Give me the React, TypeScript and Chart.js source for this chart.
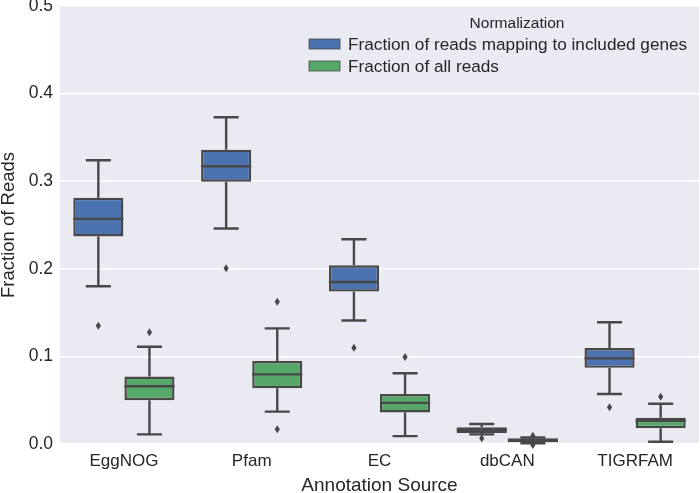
import React, { useEffect, useRef } from 'react';
import { Chart, registerables } from 'chart.js';
Chart.register(...registerables);

const categories = ['EggNOG', 'Pfam', 'EC', 'dbCAN', 'TIGRFAM'];
const seriesLabels = ['Fraction of reads mapping to included genes', 'Fraction of all reads'];
const legendTitle = 'Normalization';
const yTicks = [0.0, 0.1, 0.2, 0.3, 0.4, 0.5];

const includedLow = [0.180, 0.246, 0.141, 0.011, 0.057];
const includedQ1 = [0.237, 0.2995, 0.174, 0.0125, 0.087];
const includedMedian = [0.257, 0.317, 0.185, 0.016, 0.0978];
const includedQ3 = [0.281, 0.336, 0.204, 0.019, 0.1096];
const includedHigh = [0.324, 0.373, 0.2337, 0.0228, 0.139];
const includedOutliers = [[0.135], [0.2006], [0.110], [0.0065], [0.042]];

const allLow = [0.011, 0.037, 0.009, 0.0008, 0.0026];
const allQ1 = [0.050, 0.0635, 0.036, 0.002, 0.018];
const allMedian = [0.066, 0.0795, 0.047, 0.004, 0.0266];
const allQ3 = [0.077, 0.0947, 0.057, 0.0065, 0.030];
const allHigh = [0.111, 0.132, 0.0807, 0.0075, 0.046];
const allOutliers = [[0.1275], [0.1625, 0.0168], [0.0993], [0.0095, -0.001], [0.054]];

const BLUE = '#4C72B0';
const GREEN = '#55A868';
const LINE = '#484848';
const BG = '#EAEAF2';
const TEXT = '#262626';
const FONT = "'Liberation Sans', Arial, Helvetica, sans-serif";

const stats = [
  { low: includedLow, q1: includedQ1, med: includedMedian, q3: includedQ3, high: includedHigh, out: includedOutliers },
  { low: allLow, q1: allQ1, med: allMedian, q3: allQ3, high: allHigh, out: allOutliers },
];

const boxPlugin = {
  id: 'boxExtras',
  beforeDraw(chart: any) {
    const { ctx, chartArea } = chart;
    ctx.save();
    ctx.fillStyle = BG;
    ctx.fillRect(chartArea.left, chartArea.top, chartArea.right - chartArea.left, chartArea.bottom - chartArea.top);
    ctx.restore();
  },
  beforeDatasetsDraw(chart: any) {
    const { ctx } = chart;
    const y = chart.scales.y;
    ctx.save();
    ctx.strokeStyle = LINE;
    ctx.lineWidth = 2.4;
    stats.forEach((s, di) => {
      const meta = chart.getDatasetMeta(di);
      meta.data.forEach((bar: any, i: number) => {
        const cx = bar.x;
        const half = bar.width / 4;
        const yl = y.getPixelForValue(s.low[i]);
        const yh = y.getPixelForValue(s.high[i]);
        const y1 = y.getPixelForValue(s.q1[i]);
        const y3 = y.getPixelForValue(s.q3[i]);
        ctx.beginPath();
        ctx.moveTo(cx, y3); ctx.lineTo(cx, yh);
        ctx.moveTo(cx - half, yh); ctx.lineTo(cx + half, yh);
        ctx.moveTo(cx, y1); ctx.lineTo(cx, yl);
        ctx.moveTo(cx - half, yl); ctx.lineTo(cx + half, yl);
        ctx.stroke();
      });
    });
    ctx.restore();
  },
  afterDatasetsDraw(chart: any) {
    const { ctx } = chart;
    const y = chart.scales.y;
    ctx.save();
    ctx.strokeStyle = LINE;
    ctx.fillStyle = LINE;
    ctx.lineWidth = 2.4;
    stats.forEach((s, di) => {
      const meta = chart.getDatasetMeta(di);
      meta.data.forEach((bar: any, i: number) => {
        const cx = bar.x;
        const hw = bar.width / 2;
        const ym = y.getPixelForValue(s.med[i]);
        ctx.beginPath();
        ctx.moveTo(cx - hw, ym); ctx.lineTo(cx + hw, ym);
        ctx.stroke();
        s.out[i].forEach((v: number) => {
          const yo = y.getPixelForValue(v);
          ctx.beginPath();
          ctx.moveTo(cx, yo - 4);
          ctx.lineTo(cx + 2.6, yo);
          ctx.lineTo(cx, yo + 4);
          ctx.lineTo(cx - 2.6, yo);
          ctx.closePath();
          ctx.fill();
        });
      });
    });
    ctx.restore();
  },
  afterDraw(chart: any) {
    const { ctx } = chart;
    ctx.save();
    ctx.fillStyle = TEXT;
    ctx.textBaseline = 'alphabetic';
    ctx.font = `15.5px ${FONT}`;
    ctx.textAlign = 'center';
    ctx.fillText(legendTitle, 517, 28);
    ctx.textAlign = 'left';
    ctx.font = `17.2px ${FONT}`;
    const colors = [BLUE, GREEN];
    const baselines = [50, 72];
    seriesLabels.forEach((lab, i) => {
      const b = baselines[i];
      ctx.fillStyle = colors[i];
      ctx.fillRect(309, b - 11, 31, 10);
      ctx.strokeStyle = LINE;
      ctx.lineWidth = 0.8;
      ctx.strokeRect(309, b - 11, 31, 10);
      ctx.fillStyle = TEXT;
      ctx.fillText(lab, 348, b);
    });
    ctx.restore();
  },
};

export default function App() {
  const ref = useRef<HTMLCanvasElement>(null);
  useEffect(() => {
    document.body.style.margin = '0';
    const canvas = ref.current!;
    const chart = new Chart(canvas, {
      type: 'bar',
      data: {
        labels: categories,
        datasets: stats.map((s, di) => ({
          label: seriesLabels[di],
          data: categories.map((_, i) => [s.q1[i], s.q3[i]]),
          backgroundColor: di === 0 ? BLUE : GREEN,
          borderColor: LINE,
          borderWidth: 2.4,
          borderSkipped: false,
          categoryPercentage: 0.8,
          barPercentage: 0.98,
        })) as any,
      },
      options: {
        responsive: false,
        animation: false,
        layout: { padding: { left: 0, right: 1, top: 6, bottom: 0 } },
        plugins: { legend: { display: false }, tooltip: { enabled: false } },
        scales: {
          x: {
            grid: { display: false, drawTicks: false },
            border: { display: false },
            ticks: { color: TEXT, font: { family: FONT, size: 17 }, padding: 7 },
            title: { display: true, text: 'Annotation Source', color: TEXT, font: { family: FONT, size: 19 }, padding: { top: 0, bottom: -4 } },
            afterFit: (s: any) => { s.height = 49; s.paddingLeft = 0; s.paddingRight = 0; },
          },
          y: {
            min: 0,
            max: 0.5,
            afterBuildTicks: (s: any) => { s.ticks = yTicks.map((v) => ({ value: v })); },
            grid: { color: '#FFFFFF', lineWidth: 1.5, drawTicks: false },
            border: { display: false },
            ticks: { color: TEXT, font: { family: FONT, size: 17.5 }, padding: 7, callback: (v: any) => Number(v).toFixed(1) },
            title: { display: true, text: 'Fraction of Reads', color: TEXT, font: { family: FONT, size: 18.5 }, padding: { top: -2, bottom: 0 } },
            afterFit: (s: any) => { s.width = 60; s.paddingTop = 0; s.paddingBottom = 0; },
          },
        },
      },
      plugins: [boxPlugin],
    });
    return () => chart.destroy();
  }, []);
  return (
    <div style={{ width: 700, height: 493 }}>
      <canvas ref={ref} width={700} height={493} style={{ width: 700, height: 493, display: 'block' }} />
    </div>
  );
}
